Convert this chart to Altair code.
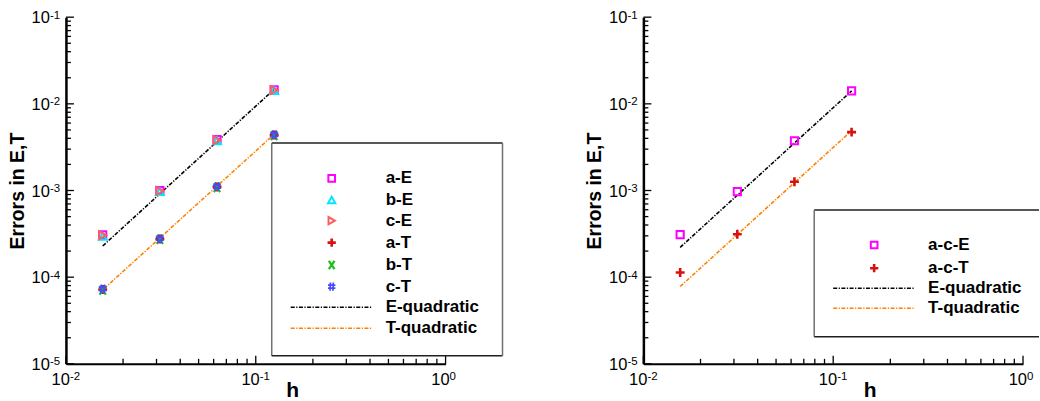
import altair as alt
import pandas as pd

# ---------------- data ----------------
h = [0.015625, 0.03125, 0.0625, 0.125]

# left panel
left_aE = [3.08e-4, 1.00e-3, 3.86e-3, 1.45e-2]
left_bE = [2.95e-4, 9.7e-4, 3.75e-3, 1.42e-2]
left_cE = [3.05e-4, 9.9e-4, 3.82e-3, 1.44e-2]
left_aT = [7.2e-5, 2.76e-4, 1.10e-3, 4.36e-3]
left_bT = [7.1e-5, 2.72e-4, 1.08e-3, 4.30e-3]
left_cT = [7.3e-5, 2.78e-4, 1.11e-3, 4.40e-3]
left_Eq_h = [0.015625, 0.125]
left_Eq = [2.29e-4, 1.47e-2]
left_Tq_h = [0.0159, 0.125]
left_Tq = [7.4e-5, 4.45e-3]

# right panel
right_acE = [3.1e-4, 9.7e-4, 3.75e-3, 1.41e-2]
right_acT = [1.13e-4, 3.13e-4, 1.26e-3, 4.72e-3]
right_Eq_h = [0.015625, 0.125]
right_Eq = [2.21e-4, 1.41e-2]
right_Tq_h = [0.015625, 0.125]
right_Tq = [7.8e-5, 4.9e-3]

left_labels = ["a-E", "b-E", "c-E", "a-T", "b-T", "c-T", "E-quadratic", "T-quadratic"]
right_labels = ["a-c-E", "a-c-T", "E-quadratic", "T-quadratic"]

x_major = [0.01, 0.1, 1.0]
x_major_exp = ["-2", "-1", "0"]
x_minor = [0.02, 0.03, 0.04, 0.05, 0.06, 0.07, 0.08, 0.09,
           0.2, 0.3, 0.4, 0.5, 0.6, 0.7, 0.8, 0.9]
y_major = [1e-5, 1e-4, 1e-3, 1e-2, 1e-1]
y_major_exp = ["-5", "-4", "-3", "-2", "-1"]
y_minor = [2e-5, 3e-5, 4e-5, 5e-5, 6e-5, 7e-5, 8e-5, 9e-5,
           2e-4, 3e-4, 4e-4, 5e-4, 6e-4, 7e-4, 8e-4, 9e-4,
           2e-3, 3e-3, 4e-3, 5e-3, 6e-3, 7e-3, 8e-3, 9e-3,
           2e-2, 3e-2, 4e-2, 5e-2, 6e-2, 7e-2, 8e-2, 9e-2]

# ---------------- style ----------------
FONT = "Liberation Sans"
W, H = 380, 347
XS = alt.Scale(type="log", domain=[0.01, 1.0], nice=False)
YS = alt.Scale(type="log", domain=[1e-5, 1e-1], nice=False)
XAX = alt.Axis(title=None, labels=False, ticks=False, grid=False,
               domainColor="black", domainWidth=2)
YAX = alt.Axis(title=None, labels=False, ticks=False, grid=False,
               domainColor="black", domainWidth=2.5)

MAGENTA = "#ff00ff"
CYAN = "#00e8ff"
SALMON = "#f86060"
RED = "#d81010"
GREEN = "#18c018"
BLUE = "#4848ff"
ORANGE = "#ff8000"
DASH = [4, 1.5, 1.2, 1.5]

PLUS = "M-1,0H1M0,-1V1"
XSHAPE = "M-0.7,-1L0.7,1M-0.7,1L0.7,-1"
HASH = "M-0.3,-1L-0.4,1M0.4,-1L0.3,1M-0.9,-0.35H0.9M-0.9,0.35H0.9"

SYM = {
    "square": dict(shape="square", color=MAGENTA, size=52, sw=2.0),
    "tri": dict(shape="triangle-up", color=CYAN, size=62, sw=2.0),
    "trir": dict(shape="triangle-right", color=SALMON, size=62, sw=2.0),
    "plus": dict(shape=PLUS, color=RED, size=80, sw=2.6),
    "x": dict(shape=XSHAPE, color=GREEN, size=80, sw=2.2),
    "hash": dict(shape=HASH, color=BLUE, size=80, sw=1.7),
}


def one():
    return pd.DataFrame({"a": [0]})


def points(hv, ev, key):
    s = SYM[key]
    df = pd.DataFrame({"h": hv, "err": ev})
    return alt.Chart(df).mark_point(
        shape=s["shape"], size=s["size"], filled=False, color=s["color"],
        strokeWidth=s["sw"], opacity=1,
    ).encode(x=alt.X("h:Q", scale=XS, axis=XAX), y=alt.Y("err:Q", scale=YS, axis=YAX))


def fitline(hv, ev, color):
    df = pd.DataFrame({"h": hv, "err": ev})
    return alt.Chart(df).mark_line(color=color, strokeWidth=1.6, strokeDash=DASH).encode(
        x=alt.X("h:Q", scale=XS, axis=XAX), y=alt.Y("err:Q", scale=YS, axis=YAX))


def axes_decor():
    layers = []
    # inward ticks on x
    for vals, ln in ((x_major, 8), (x_minor, 5)):
        layers.append(alt.Chart(pd.DataFrame({"v": vals})).mark_rule(color="black", strokeWidth=1.3).encode(
            x=alt.X("v:Q", scale=XS, axis=XAX), y=alt.value(H), y2=alt.value(H - ln)))
    for vals, ln in ((y_major, 8), (y_minor, 5)):
        layers.append(alt.Chart(pd.DataFrame({"v": vals})).mark_rule(color="black", strokeWidth=1.3).encode(
            y=alt.Y("v:Q", scale=YS, axis=YAX), x=alt.value(0), x2=alt.value(ln)))
    # tick labels 10^n
    xl = pd.DataFrame({"v": x_major, "e": x_major_exp, "b": ["10"] * len(x_major)})
    layers.append(alt.Chart(xl).mark_text(font=FONT, fontSize=16.5, align="right", dx=4, baseline="alphabetic").encode(
        x=alt.X("v:Q", scale=XS, axis=XAX), y=alt.value(H + 21), text="b:N"))
    layers.append(alt.Chart(xl).mark_text(font=FONT, fontSize=11.5, align="left", dx=4, baseline="alphabetic").encode(
        x=alt.X("v:Q", scale=XS, axis=XAX), y=alt.value(H + 16.5), text="e:N"))
    yl = pd.DataFrame({"v": y_major, "e": y_major_exp, "b": ["10"] * len(y_major)})
    layers.append(alt.Chart(yl).mark_text(font=FONT, fontSize=16.5, align="right", dy=6, baseline="alphabetic").encode(
        y=alt.Y("v:Q", scale=YS, axis=YAX), x=alt.value(-16), text="b:N"))
    layers.append(alt.Chart(yl).mark_text(font=FONT, fontSize=11.5, align="left", dy=1.5, baseline="alphabetic").encode(
        y=alt.Y("v:Q", scale=YS, axis=YAX), x=alt.value(-16), text="e:N"))
    # titles
    layers.append(alt.Chart(one()).mark_text(font=FONT, fontSize=19.5, fontWeight="bold", angle=270,
                                             align="center", baseline="middle", text="Errors in E,T").encode(
        x=alt.value(-48), y=alt.value(174)))
    layers.append(alt.Chart(one()).mark_text(font=FONT, fontSize=21, fontWeight="bold",
                                             align="center", baseline="alphabetic", text="h").encode(
        x=alt.value(227), y=alt.value(H + 33)))
    return layers


def legend_box(x0, x1, y0, y1, right_side=True):
    layers = [alt.Chart(one()).mark_rect(fill="white", stroke=None).encode(
        x=alt.value(x0), x2=alt.value(x1), y=alt.value(y0), y2=alt.value(y1))]
    sides = [(x0, x1, y0, y0, "#202020"), (x0, x0, y0, y1, "#707070"), (x0, x1, y1, y1, "#202020")]
    if right_side:
        sides.append((x1, x1, y0, y1, "#707070"))
    for a, b, c, d, col in sides:
        layers.append(alt.Chart(one()).mark_rule(color=col, strokeWidth=1.5).encode(
            x=alt.value(a), x2=alt.value(b), y=alt.value(c), y2=alt.value(d)))
    return layers


def legend_entries(labels, kinds, rows, sx, tx, lx0, lx1):
    layers = []
    for lab, kind, ry in zip(labels, kinds, rows):
        if kind in SYM:
            s = SYM[kind]
            layers.append(alt.Chart(one()).mark_point(
                shape=s["shape"], size=s["size"] * 0.85, filled=False, color=s["color"],
                strokeWidth=s["sw"], opacity=1).encode(x=alt.value(sx), y=alt.value(ry)))
        else:
            col = "black" if kind == "E" else ORANGE
            layers.append(alt.Chart(one()).mark_rule(color=col, strokeWidth=1.6, strokeDash=DASH).encode(
                x=alt.value(lx0), x2=alt.value(lx1), y=alt.value(ry)))
        layers.append(alt.Chart(one()).mark_text(font=FONT, fontSize=17, fontWeight="bold",
                                                 align="left", baseline="middle", text=lab).encode(
            x=alt.value(tx), y=alt.value(ry)))
    return layers


def anchor(x0, x1):
    return alt.Chart(one()).mark_rect(fill="white", fillOpacity=0, strokeOpacity=0).encode(
        x=alt.value(x0), x2=alt.value(x1), y=alt.value(-17), y2=alt.value(H + 37))


left_layers = [anchor(-66, 10)] + axes_decor() + [
    fitline(left_Eq_h, left_Eq, "black"),
    fitline(left_Tq_h, left_Tq, ORANGE),
    points(h, left_aE, "square"),
    points(h, left_bE, "tri"),
    points(h, left_cE, "trir"),
    points(h, left_aT, "plus"),
    points(h, left_bT, "x"),
    points(h, left_cT, "hash"),
] + legend_box(206, 437, 126, 339) + legend_entries(
    left_labels, ["square", "tri", "trir", "plus", "x", "hash", "E", "T"],
    [161.3, 183, 203.7, 225.7, 248, 269.7, 290.3, 311.3], 266, 320, 225, 307)

right_layers = [anchor(-66, 396)] + axes_decor() + [
    fitline(right_Eq_h, right_Eq, "black"),
    fitline(right_Tq_h, right_Tq, ORANGE),
    points(h, right_acE, "square"),
    points(h, right_acT, "plus"),
] + legend_box(171, 396, 193, 320, right_side=False) + legend_entries(
    right_labels, ["square", "plus", "E", "T"],
    [228, 251.3, 271.3, 291.3], 231, 285, 190, 272)

left = alt.layer(*left_layers).properties(width=W, height=H)
right = alt.layer(*right_layers).properties(width=W, height=H)

chart = alt.hconcat(left, right, spacing=198, bounds="flush").properties(
    padding=0, background="white"
).configure_view(stroke=None)

chart.save("out.html", embed_options={"renderer": "svg", "actions": False})
